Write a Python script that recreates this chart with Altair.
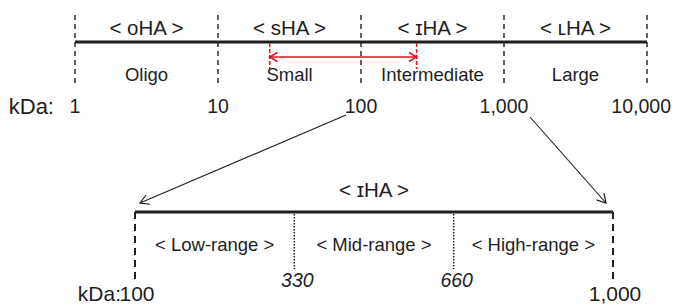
import altair as alt
import pandas as pd

# ---------------- data ----------------
# upper scale: molecular size classes (kDa, logarithmic)
top_bounds = [1, 10, 100, 1000, 10000]
top_tick_labels = ["1", "10", "100", "1,000", "10,000"]
class_headers = ["< oHA >", "< sHA >", "< ɪHA >", "< ʟHA >"]
class_names = ["Oligo", "Small", "Intermediate", "Large"]
red_range = [23, 245]  # kDa, red double arrow

# lower scale: subdivision of the intermediate class
sub_bounds = [100, 330, 660, 1000]
sub_tick_labels = ["100", "330", "660", "1,000"]
sub_names = ["< Low-range >", "< Mid-range >", "< High-range >"]
sub_header = "< ɪHA >"

# connector arrows (page pixel coordinates)
conn_x0 = [346, 530]
conn_y0 = [115, 117]
conn_x1 = [140, 606]
conn_y1 = [203, 203]

# ---------------- tables ----------------
top_b = pd.DataFrame({"kda": top_bounds, "label": top_tick_labels})
top_c = pd.DataFrame({
    "lo": top_bounds[:-1], "hi": top_bounds[1:],
    "head": class_headers, "name": class_names,
})
top_axis = pd.DataFrame({"lo": [top_bounds[0]], "hi": [top_bounds[-1]]})
red = pd.DataFrame({"kda": red_range, "ang": [180, 0]})
red_seg = pd.DataFrame({"lo": [red_range[0]], "hi": [red_range[1]]})

n = len(sub_bounds)
sub_b = pd.DataFrame({"idx": list(range(n)), "label": sub_tick_labels})
sub_ends = sub_b.iloc[[0, n - 1]]
sub_mids = sub_b.iloc[1:n - 1]
sub_c = pd.DataFrame({"idx": [i + 0.5 for i in range(n - 1)], "name": sub_names})
sub_axis = pd.DataFrame({"lo": [0], "hi": [n - 1]})
sub_head = pd.DataFrame({"idx": [(n - 1) / 2], "name": [sub_header]})
kda_lab = pd.DataFrame({"idx": [0], "label": ["kDa:"]})

conn = pd.DataFrame({"x0": conn_x0, "y0": conn_y0, "x1": conn_x1, "y1": conn_y1})
conn["ang"] = [157, 48]

# ---------------- scales ----------------
W, H = 663, 298
X_TOP = alt.Scale(type="log", domain=[1, 10000], range=[67, 639])
X_BOT = alt.Scale(type="linear", domain=[0, n - 1], range=[127, 605])
X_PX = alt.Scale(domain=[8, 8 + W], range=[0, W])
YS = alt.Scale(domain=[8, 8 + H], range=[0, H])

BLACK = "#1e1e1e"
RED = "#e3141b"
FONT = "Liberation Sans"
ARROW = "M-1,-0.58L0,0L-1,0.58"


def yv(v):
    return alt.Y(datum=v, scale=YS, axis=None)


def y2v(v):
    return alt.Y2(datum=v)


# ---------------- upper scale ----------------
t_dash = alt.Chart(top_b).mark_rule(color=BLACK, strokeWidth=1.4, strokeDash=[5, 4]).encode(
    x=alt.X("kda:Q", scale=X_TOP, axis=None), y=yv(15), y2=y2v(87))
t_axis = alt.Chart(top_axis).mark_rule(color=BLACK, strokeWidth=3).encode(
    x=alt.X("lo:Q", scale=X_TOP, axis=None), x2="hi:Q", y=yv(42))
t_head = alt.Chart(top_c).transform_calculate(mid="sqrt(datum.lo*datum.hi)").mark_text(
    font=FONT, fontSize=20.5, color=BLACK, baseline="middle").encode(
    x=alt.X("mid:Q", scale=X_TOP, axis=None), y=yv(29), text="head:N")
t_name = alt.Chart(top_c).transform_calculate(mid="sqrt(datum.lo*datum.hi)").mark_text(
    font=FONT, fontSize=18.5, color=BLACK, baseline="middle").encode(
    x=alt.X("mid:Q", scale=X_TOP, axis=None), y=yv(75), text="name:N")
t_tick = alt.Chart(top_b.iloc[:-1]).mark_text(
    font=FONT, fontSize=19.5, color=BLACK, baseline="middle").encode(
    x=alt.X("kda:Q", scale=X_TOP, axis=None), y=yv(107), text="label:N")
t_tick_last = alt.Chart(top_b.iloc[[-1]]).mark_text(
    font=FONT, fontSize=19.5, color=BLACK, baseline="middle", align="right", dx=24).encode(
    x=alt.X("kda:Q", scale=X_TOP, axis=None), y=yv(107), text="label:N")
t_kda = alt.Chart(top_b.iloc[[0]]).mark_text(
    font=FONT, fontSize=22, color=BLACK, baseline="middle", align="right", dx=-21).encode(
    x=alt.X("kda:Q", scale=X_TOP, axis=None), y=yv(107), text=alt.value("kDa:"))

r_dash = alt.Chart(red).mark_rule(color=RED, strokeWidth=1.5, strokeDash=[4, 2]).encode(
    x=alt.X("kda:Q", scale=X_TOP, axis=None), y=yv(43), y2=y2v(69))
r_line = alt.Chart(red_seg).mark_rule(color=RED, strokeWidth=1.5).encode(
    x=alt.X("lo:Q", scale=X_TOP, axis=None), x2="hi:Q", y=yv(57))
r_head = alt.Chart(red).mark_point(shape=ARROW, filled=False, color=RED, strokeWidth=1.5,
                                   opacity=1, size=240).encode(
    x=alt.X("kda:Q", scale=X_TOP, axis=None), y=yv(57), angle=alt.Angle("ang:Q", scale=None))

# ---------------- lower scale ----------------
b_axis = alt.Chart(sub_axis).mark_rule(color=BLACK, strokeWidth=3).encode(
    x=alt.X("lo:Q", scale=X_BOT, axis=None), x2="hi:Q", y=yv(212))
b_ends = alt.Chart(sub_ends).mark_rule(color=BLACK, strokeWidth=2, strokeDash=[7, 5]).encode(
    x=alt.X("idx:Q", scale=X_BOT, axis=None), y=yv(212), y2=y2v(284))
b_mids = alt.Chart(sub_mids).mark_rule(color=BLACK, strokeWidth=1.5, strokeDash=[1.5, 1.5]).encode(
    x=alt.X("idx:Q", scale=X_BOT, axis=None), y=yv(214), y2=y2v(269))
b_head = alt.Chart(sub_head).mark_text(
    font=FONT, fontSize=20.5, color=BLACK, baseline="middle").encode(
    x=alt.X("idx:Q", scale=X_BOT, axis=None), y=yv(191), text="name:N")
b_name = alt.Chart(sub_c).mark_text(
    font=FONT, fontSize=18.5, color=BLACK, baseline="middle").encode(
    x=alt.X("idx:Q", scale=X_BOT, axis=None), y=yv(245), text="name:N")
b_endlab = alt.Chart(sub_ends).mark_text(
    font=FONT, fontSize=21, color=BLACK, baseline="middle", dx=2).encode(
    x=alt.X("idx:Q", scale=X_BOT, axis=None), y=yv(295), text="label:N")
b_kda = alt.Chart(kda_lab).mark_text(
    font=FONT, fontSize=21, color=BLACK, baseline="middle", align="right", dx=-14).encode(
    x=alt.X("idx:Q", scale=X_BOT, axis=None), y=yv(295), text="label:N")
b_midlab = alt.Chart(sub_mids).mark_text(
    font=FONT, fontSize=19.5, fontStyle="italic", color=BLACK, baseline="middle", dx=3).encode(
    x=alt.X("idx:Q", scale=X_BOT, axis=None), y=yv(281), text="label:N")

# ---------------- connectors ----------------
c_line = alt.Chart(conn).mark_rule(color=BLACK, strokeWidth=1.1).encode(
    x=alt.X("x0:Q", scale=X_PX, axis=None), x2="x1:Q",
    y=alt.Y("y0:Q", scale=YS, axis=None), y2="y1:Q")
c_head = alt.Chart(conn).mark_point(shape=ARROW, filled=False, color=BLACK, strokeWidth=1.2,
                                    opacity=1, size=300).encode(
    x=alt.X("x1:Q", scale=X_PX, axis=None), y=alt.Y("y1:Q", scale=YS, axis=None),
    angle=alt.Angle("ang:Q", scale=None))

chart = alt.layer(
    t_dash, t_axis, t_head, t_name, t_tick, t_tick_last, t_kda,
    r_dash, r_line, r_head,
    b_axis, b_ends, b_mids, b_head, b_name, b_endlab, b_kda, b_midlab,
    c_line, c_head,
).resolve_scale(x="independent").properties(
    width=W, height=H, padding=0, autosize=alt.AutoSizeParams(type="none"),
    background="white",
).configure_view(strokeWidth=0)

chart.save("out.html", embed_options={"renderer": "svg", "actions": False})
